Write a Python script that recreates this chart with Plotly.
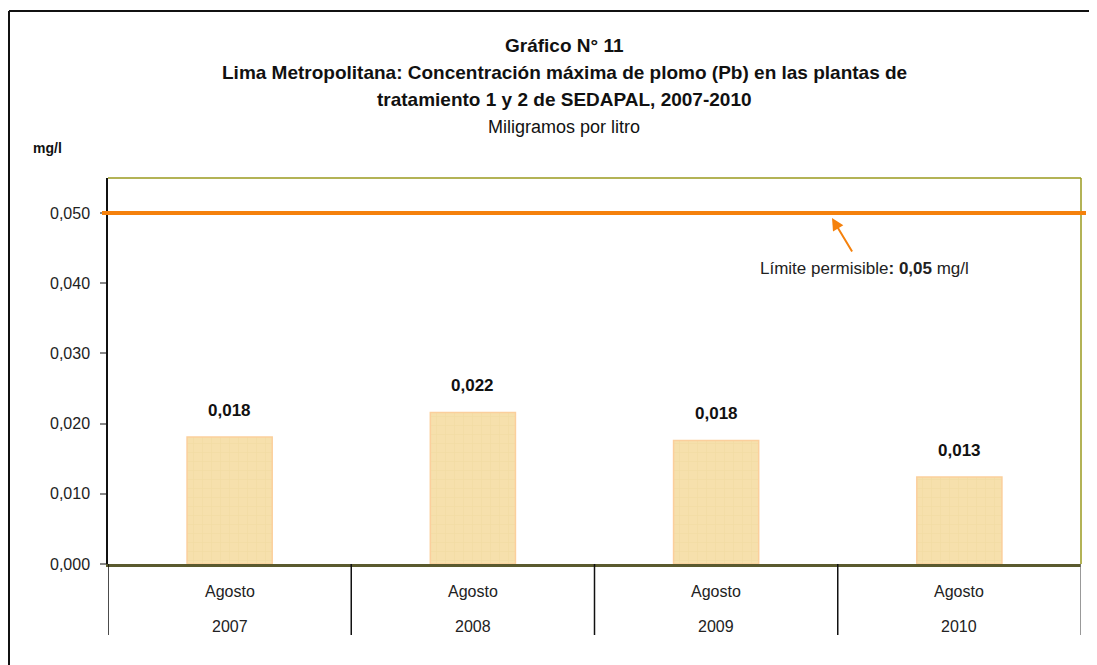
import plotly.graph_objects as go

# Data
years = ["2007", "2008", "2009", "2010"]
months = ["Agosto", "Agosto", "Agosto", "Agosto"]
pb_max = [0.0181, 0.0216, 0.0176, 0.0124]
pb_labels = ["0,018", "0,022", "0,018", "0,013"]
limit_pb = 0.05
y_ticks = [0.0, 0.01, 0.02, 0.03, 0.04, 0.05]
y_ticktext = ["0,000", "0,010", "0,020", "0,030", "0,040", "0,050"]

FONT = "Liberation Sans, Arial, sans-serif"
ORANGE = "#F5810C"
OLIVE = "#9A9A1E"

# page has an 8px body margin, so the figure sits at (8, 8)
OFF = 8
W, H = 1097 - OFF, 665 - OFF
L, R, T, B = 100, 16, 170, 101
PW, PH = W - L - R, H - T - B


def px_x(x):
    # page pixel -> paper x
    return (x - OFF - L) / PW


def px_y(y):
    # page pixel -> paper y
    return (H - B - (y - OFF)) / PH


def label(x, y, text, size, color="#222222", xref="paper", yref="paper"):
    fig.add_annotation(xref=xref, yref=yref, x=x, y=y, text=text, showarrow=False,
                       xanchor="center", yanchor="middle",
                       font=dict(size=size, color=color, family=FONT))


fig = go.Figure()

fig.add_trace(go.Bar(
    x=years,
    y=pb_max,
    width=0.35,
    marker=dict(
        color="#F5DEA9",
        line=dict(color="#FBCF9C", width=1.5),
        pattern=dict(shape="+", fgcolor="#ECD394", bgcolor="#F6E0AC", size=9, solidity=0.1),
    ),
    hoverinfo="skip",
))

# value labels above bars
for i, (v, lab) in enumerate(zip(pb_max, pb_labels)):
    fig.add_annotation(x=i, y=v, text=f"<b>{lab}</b>", showarrow=False,
                       xanchor="center", yanchor="bottom", yshift=15,
                       font=dict(size=17, color="#111111", family=FONT))

# category labels (two rows)
for i, (yr, m) in enumerate(zip(years, months)):
    label(i, px_y(591), m, 16, xref="x")
    label(i, px_y(626), yr, 16, xref="x")

# category separators below the axis
for i in range(len(years) + 1):
    fig.add_shape(type="line", xref="x", yref="paper",
                  x0=i - 0.5, x1=i - 0.5, y0=0, y1=px_y(635),
                  line=dict(color="#111111" if i < len(years) else "#777777", width=1.5))

# plot-area border: top and right olive
fig.add_shape(type="line", xref="paper", yref="paper", x0=0, x1=1, y0=1, y1=1,
              line=dict(color=OLIVE, width=1.5))
fig.add_shape(type="line", xref="paper", yref="paper", x0=1, x1=1, y0=0, y1=1,
              line=dict(color=OLIVE, width=1.5))

# permissible limit line
fig.add_shape(type="line", xref="paper", yref="y", x0=px_x(102), x1=px_x(1086),
              y0=limit_pb, y1=limit_pb, line=dict(color=ORANGE, width=4))

fig.add_annotation(xref="paper", yref="paper", x=px_x(832), y=px_y(218),
                   ax=21, ay=35, showarrow=True, arrowhead=2, arrowsize=1.2,
                   arrowwidth=2, arrowcolor=ORANGE, text="")
label(px_x(864), px_y(268), "Límite permisible<b>: 0,05</b> mg/l", 17)

# outer frame (top and left)
fig.add_shape(type="line", xref="paper", yref="paper", x0=px_x(9), x1=px_x(1110),
              y0=px_y(11), y1=px_y(11), line=dict(color="#111111", width=2))
fig.add_shape(type="line", xref="paper", yref="paper", x0=px_x(9), x1=px_x(9),
              y0=px_y(11), y1=px_y(680), line=dict(color="#111111", width=2))

# titles
label(px_x(564), px_y(45), "<b>Gráfico N° 11</b>", 19, "#111111")
label(px_x(564), px_y(73),
      "<b>Lima Metropolitana: Concentración máxima de plomo (Pb) en las plantas de</b>", 19, "#111111")
label(px_x(564), px_y(100), "<b>tratamiento 1 y 2 de SEDAPAL, 2007-2010</b>", 19, "#111111")
label(px_x(564), px_y(127), "Miligramos por litro", 18, "#111111")
label(px_x(47), px_y(148), "<b>mg/l</b>", 14, "#111111")

fig.update_layout(
    width=W, height=H,
    margin=dict(l=L, r=R, t=T, b=B),
    paper_bgcolor="white", plot_bgcolor="white",
    showlegend=False,
    font=dict(family=FONT, color="#222222"),
)
fig.update_xaxes(
    type="category",
    range=[-0.5, 3.5], showticklabels=False, ticks="",
    showline=True, linecolor="#5A5A2E", linewidth=2.5, showgrid=False,
)
fig.update_yaxes(
    range=[0, 0.055], tickvals=y_ticks, ticktext=y_ticktext,
    ticks="outside", ticklen=6, tickcolor="#888888", tickwidth=1.5,
    ticklabelstandoff=7,
    tickfont=dict(size=16, color="#222222", family=FONT),
    showline=True, linecolor="#111111", linewidth=1.5, showgrid=False,
    zeroline=False,
)

fig.write_html("out.html")
